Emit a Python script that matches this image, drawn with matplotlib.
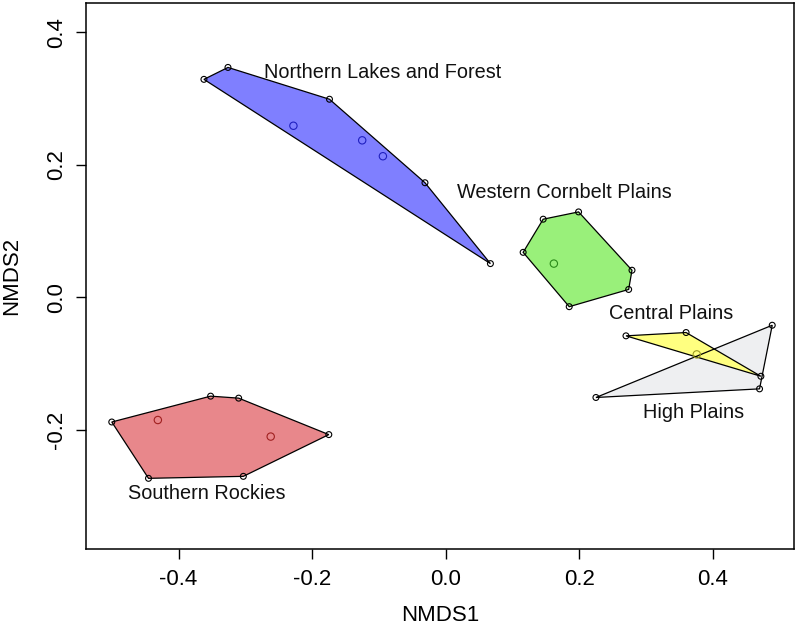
import matplotlib.pyplot as plt
from matplotlib.patches import Polygon

plt.rcParams["font.family"] = ["Liberation Sans", "DejaVu Sans"]

# NMDS scores per ecoregion
nlf_x = [-0.362, -0.326, -0.174, -0.228, -0.125, -0.094, -0.031, 0.067]
nlf_y = [0.329, 0.347, 0.299, 0.259, 0.237, 0.213, 0.173, 0.051]

wcp_x = [0.146, 0.199, 0.116, 0.162, 0.279, 0.274, 0.185]
wcp_y = [0.118, 0.129, 0.068, 0.051, 0.041, 0.012, -0.014]

cp_x = [0.270, 0.360, 0.376, 0.472]
cp_y = [-0.058, -0.053, -0.086, -0.119]

hp_x = [0.225, 0.489, 0.470]
hp_y = [-0.151, -0.042, -0.138]

sr_x = [-0.500, -0.352, -0.310, -0.431, -0.262, -0.175, -0.303, -0.445]
sr_y = [-0.188, -0.149, -0.152, -0.185, -0.210, -0.207, -0.270, -0.273]

# drawing order: High Plains under Central Plains
groups = [
    ("Northern Lakes and Forest", nlf_x, nlf_y, "#7f7fff", "#2020c0", (-0.094, 0.340)),
    ("Western Cornbelt Plains", wcp_x, wcp_y, "#99f07a", "#2a8a1a", (0.178, 0.159)),
    ("High Plains", hp_x, hp_y, "#eeeff1", "#555555", (0.371, -0.174)),
    ("Central Plains", cp_x, cp_y, "#ffff80", "#9a9a20", (0.337, -0.024)),
    ("Southern Rockies", sr_x, sr_y, "#e8878b", "#a02020", (-0.358, -0.296)),
]


def hull(xs, ys):
    pts = sorted(set(zip(xs, ys)))
    if len(pts) < 3:
        return pts

    def cross(o, a, b):
        return (a[0] - o[0]) * (b[1] - o[1]) - (a[1] - o[1]) * (b[0] - o[0])

    lower, upper = [], []
    for p in pts:
        while len(lower) >= 2 and cross(lower[-2], lower[-1], p) <= 0:
            lower.pop()
        lower.append(p)
    for p in reversed(pts):
        while len(upper) >= 2 and cross(upper[-2], upper[-1], p) <= 0:
            upper.pop()
        upper.append(p)
    return lower[:-1] + upper[:-1]


fig = plt.figure(figsize=(8, 6.27), dpi=100)
ax = fig.add_axes([0.108, 0.124, 0.884, 0.871])

for i, (nome, xs, ys, fill, pcol, lab) in enumerate(groups):
    h = hull(xs, ys)
    # fill first, outlines on top of all fills
    ax.add_patch(Polygon(h, closed=True, facecolor=fill, edgecolor="none",
                         zorder=1 + i * 0.01))
    ax.add_patch(Polygon(h, closed=True, facecolor="none", edgecolor="black",
                         linewidth=0.9, zorder=2))
    hs = set(h)
    inner = [(x, y) for x, y in zip(xs, ys) if (x, y) not in hs]
    ax.scatter([p[0] for p in h], [p[1] for p in h], s=18, facecolors="none",
               edgecolors="black", linewidths=0.8, zorder=3)
    if inner:
        ax.scatter([p[0] for p in inner], [p[1] for p in inner], s=28,
                   facecolors="none", edgecolors=pcol, linewidths=0.8, zorder=3)
    ax.text(lab[0], lab[1], nome, ha="center", va="center", fontsize=14.3,
            color="#111111", zorder=4)

ax.set_xlim(-0.538, 0.521)
ax.set_ylim(-0.380, 0.444)
ax.set_xticks([-0.4, -0.2, 0.0, 0.2, 0.4])
ax.set_xticklabels(["-0.4", "-0.2", "0.0", "0.2", "0.4"])
ax.set_yticks([-0.2, 0.0, 0.2, 0.4])
ax.set_yticklabels(["-0.2", "0.0", "0.2", "0.4"], rotation=90, va="center")
ax.tick_params(direction="out", length=7, width=1, labelsize=16, pad=7)
for s in ax.spines.values():
    s.set_linewidth(1.1)

ax.set_xlabel("NMDS1", fontsize=16, labelpad=11)
ax.set_ylabel("NMDS2", fontsize=16, labelpad=17)

fig.savefig("out.png", dpi=100)
